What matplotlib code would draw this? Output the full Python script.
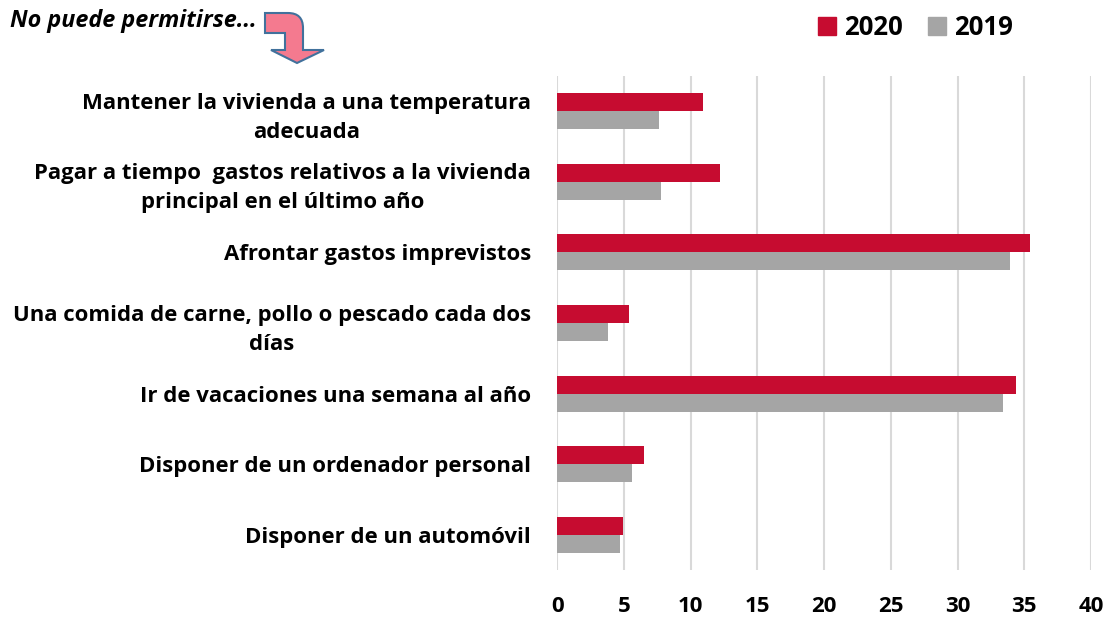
import matplotlib
matplotlib.use("Agg")
import matplotlib.pyplot as plt
import matplotlib.transforms as mtransforms
from matplotlib.path import Path
from matplotlib.patches import PathPatch, Patch
import numpy as np

categories = [
    "Mantener la vivienda a una temperatura\nadecuada",
    "Pagar a tiempo  gastos relativos a la vivienda\nprincipal en el último año",
    "Afrontar gastos imprevistos",
    "Una comida de carne, pollo o pescado cada dos\ndías",
    "Ir de vacaciones una semana al año",
    "Disponer de un ordenador personal",
    "Disponer de un automóvil",
]
values_2020 = [10.9, 12.2, 35.4, 5.4, 34.4, 6.5, 4.9]
values_2019 = [7.6, 7.8, 33.9, 3.8, 33.4, 5.6, 4.7]
series_labels = ["2020", "2019"]
xticks = [0, 5, 10, 15, 20, 25, 30, 35, 40]
title_text = "No puede permitirse..."

RED = "#C60C30"
GRAY = "#A5A5A5"
FONT = "Open Sans"

W, H = 1107, 617
fig = plt.figure(figsize=(W / 100, H / 100), dpi=100)
ax = fig.add_axes([557.3 / W, 1 - 570 / H, (1091 - 557.3) / W, (570 - 76) / H])

y = np.arange(len(categories))
h = 0.255
ax.barh(y - h / 2, values_2020, height=h, color=RED, label=series_labels[0], zorder=3)
ax.barh(y + h / 2, values_2019, height=h, color=GRAY, label=series_labels[1], zorder=3)

ax.set_ylim(len(categories) - 0.5, -0.5)
ax.set_xlim(0, 40)
ax.set_xticks(xticks)
ax.set_xticklabels([str(t) for t in xticks], fontsize=16, fontweight="bold", family=FONT)
ax.set_yticks(y)
ax.set_yticklabels(categories, fontsize=15.9, fontweight="bold", family=FONT, linespacing=1.5)
shift = mtransforms.ScaledTranslation(0, 4 / 100, fig.dpi_scale_trans)
for lab in ax.get_yticklabels():
    lab.set_multialignment("center")
    if "\n" in lab.get_text():
        lab.set_transform(lab.get_transform() + shift)
ax.tick_params(axis="both", length=0)
ax.tick_params(axis="y", pad=19)
ax.tick_params(axis="x", pad=19)
for s in ax.spines.values():
    s.set_visible(False)
ax.xaxis.grid(True, color="#D9D9D9", linewidth=1.5, zorder=0)
ax.set_axisbelow(True)

# legend
handles = [Patch(color=RED), Patch(color=GRAY)]
fig.legend(handles, series_labels, loc="upper left", bbox_to_anchor=(808 / W, 1 - 4 / H),
           ncol=2, frameon=False, prop={"family": FONT, "weight": "bold", "size": 18.5},
           handlelength=0.7, handleheight=0.7, handletextpad=0.3, columnspacing=1.0,
           borderaxespad=0)

# title
fig.text(10 / W, 1 - 21 / H, title_text, fontsize=16.8, fontweight="bold", fontstyle="italic",
         family=FONT, va="center", ha="left")

# arrow
def fp(x, yy):
    return (x / W, 1 - yy / H)

verts = [fp(265, 13), fp(288, 13), fp(303, 13), fp(303, 28), fp(303, 50), fp(324, 50),
         fp(297, 63), fp(271, 50), fp(285, 50), fp(285, 33), fp(265, 33), fp(265, 13)]
codes = [Path.MOVETO, Path.LINETO, Path.CURVE3, Path.CURVE3, Path.LINETO, Path.LINETO,
         Path.LINETO, Path.LINETO, Path.LINETO, Path.LINETO, Path.LINETO, Path.CLOSEPOLY]
arrow = PathPatch(Path(verts, codes), facecolor="#F47A8F", edgecolor="#41719C", linewidth=1.5,
                  transform=fig.transFigure)
fig.patches.append(arrow)

fig.savefig("out.png", dpi=100, facecolor="white")
